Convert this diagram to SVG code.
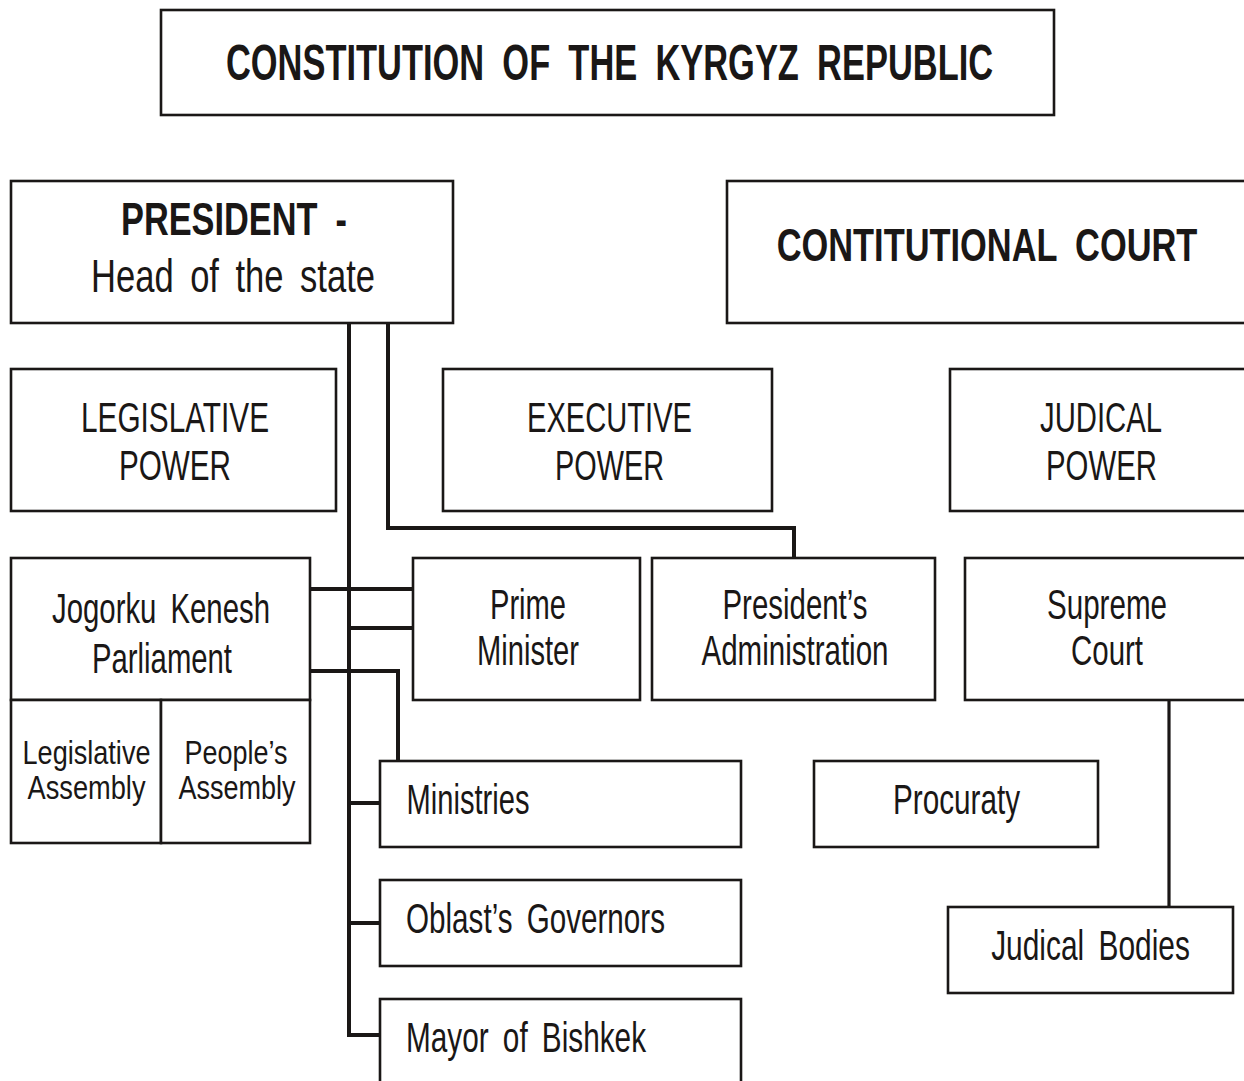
<svg xmlns="http://www.w3.org/2000/svg" width="1244" height="1081" viewBox="0 0 1244 1081">
<style>
.box{fill:#ffffff;stroke:#1a1716;stroke-width:2.6}
.con{fill:none;stroke:#1a1716;stroke-width:4}
.thin{fill:none;stroke:#1a1716;stroke-width:3.2}
text{font-family:"Liberation Sans Narrow","Liberation Sans",Arial,sans-serif;fill:#1a1716;text-anchor:middle}
.b{font-weight:bold;word-spacing:0.25em}
.r{font-size:42px;word-spacing:0.2em}
.s{font-size:34px}
</style>
<rect width="1244" height="1081" fill="#ffffff"/>
<g id="connectors">
<path class="con" d="M349,323 V1035 H380"/>
<path class="con" d="M349,803 H380"/>
<path class="con" d="M349,923 H380"/>
<path class="con" d="M311,589 H413"/>
<path class="con" d="M349,628 H413"/>
<path class="con" d="M311,671 H398 V761"/>
<path class="con" d="M388,323 V528 H794 V558"/>
<path class="thin" d="M1169,700 V907"/>
</g>
<g id="title">
<rect class="box" x="161" y="10" width="893" height="105"/>
<text class="b" transform="matrix(0.7,0,0,1,609.5,80)" x="0" y="0" font-size="50" textLength="1096" lengthAdjust="spacingAndGlyphs">CONSTITUTION OF THE KYRGYZ REPUBLIC</text>
</g>
<g id="president">
<rect class="box" x="11" y="181" width="442" height="142"/>
<text class="b" x="234" y="235" font-size="47" textLength="226" lengthAdjust="spacingAndGlyphs">PRESIDENT -</text>
<text class="r" x="233" y="292" style="font-size:46px" textLength="284" lengthAdjust="spacingAndGlyphs">Head of the state</text>
</g>
<g id="constitutional-court">
<rect class="box" x="727" y="181" width="530" height="142"/>
<text class="b" transform="matrix(0.7,0,0,1,987,261)" x="0" y="0" font-size="47" textLength="601" lengthAdjust="spacingAndGlyphs">CONTITUTIONAL COURT</text>
</g>
<g id="legislative-power">
<rect class="box" x="11" y="369" width="325" height="142"/>
<text class="r" x="175" y="432" textLength="188" lengthAdjust="spacingAndGlyphs">LEGISLATIVE</text>
<text class="r" x="175" y="480" textLength="112" lengthAdjust="spacingAndGlyphs">POWER</text>
</g>
<g id="executive-power">
<rect class="box" x="443" y="369" width="329" height="142"/>
<text class="r" x="609.5" y="432" textLength="165" lengthAdjust="spacingAndGlyphs">EXECUTIVE</text>
<text class="r" x="609.5" y="480" textLength="109" lengthAdjust="spacingAndGlyphs">POWER</text>
</g>
<g id="judical-power">
<rect class="box" x="950" y="369" width="307" height="142"/>
<text class="r" x="1101" y="432" textLength="122" lengthAdjust="spacingAndGlyphs">JUDICAL</text>
<text class="r" x="1101.5" y="480" textLength="111" lengthAdjust="spacingAndGlyphs">POWER</text>
</g>
<g id="jogorku-kenesh">
<rect class="box" x="11" y="558" width="299" height="142"/>
<text class="r" x="161" y="623" textLength="218" lengthAdjust="spacingAndGlyphs">Jogorku Kenesh</text>
<text class="r" x="162" y="673" textLength="140" lengthAdjust="spacingAndGlyphs">Parliament</text>
</g>
<g id="legislative-assembly">
<rect class="box" x="11" y="700" width="150" height="143"/>
<text class="s" x="86.5" y="764" textLength="128" lengthAdjust="spacingAndGlyphs">Legislative</text>
<text class="s" x="86.5" y="799" textLength="118" lengthAdjust="spacingAndGlyphs">Assembly</text>
</g>
<g id="peoples-assembly">
<rect class="box" x="161" y="700" width="149" height="143"/>
<text class="s" x="236" y="764" textLength="103" lengthAdjust="spacingAndGlyphs">People’s</text>
<text class="s" x="237" y="799" textLength="117" lengthAdjust="spacingAndGlyphs">Assembly</text>
</g>
<g id="prime-minister">
<rect class="box" x="413" y="558" width="227" height="142"/>
<text class="r" x="528" y="619" textLength="76" lengthAdjust="spacingAndGlyphs">Prime</text>
<text class="r" x="528" y="665" textLength="102" lengthAdjust="spacingAndGlyphs">Minister</text>
</g>
<g id="presidents-administration">
<rect class="box" x="652" y="558" width="283" height="142"/>
<text class="r" x="795" y="619" textLength="145" lengthAdjust="spacingAndGlyphs">President’s</text>
<text class="r" x="795" y="665" textLength="187" lengthAdjust="spacingAndGlyphs">Administration</text>
</g>
<g id="supreme-court">
<rect class="box" x="965" y="558" width="292" height="142"/>
<text class="r" x="1107" y="619" textLength="120" lengthAdjust="spacingAndGlyphs">Supreme</text>
<text class="r" x="1107" y="665" textLength="72" lengthAdjust="spacingAndGlyphs">Court</text>
</g>
<g id="ministries">
<rect class="box" x="380" y="761" width="361" height="86"/>
<text class="r" x="468" y="814" textLength="123" lengthAdjust="spacingAndGlyphs">Ministries</text>
</g>
<g id="procuraty">
<rect class="box" x="814" y="761" width="284" height="86"/>
<text class="r" x="956.5" y="814" textLength="127" lengthAdjust="spacingAndGlyphs">Procuraty</text>
</g>
<g id="oblasts-governors">
<rect class="box" x="380" y="880" width="361" height="86"/>
<text class="r" x="535.5" y="933" textLength="259" lengthAdjust="spacingAndGlyphs">Oblast’s Governors</text>
</g>
<g id="mayor-of-bishkek">
<rect class="box" x="380" y="999" width="361" height="100"/>
<text class="r" x="526" y="1052" textLength="240" lengthAdjust="spacingAndGlyphs">Mayor of Bishkek</text>
</g>
<g id="judical-bodies">
<rect class="box" x="948" y="907" width="285" height="86"/>
<text class="r" transform="matrix(0.75,0,0,1,1090.5,960)" x="0" y="0" textLength="265" lengthAdjust="spacingAndGlyphs">Judical Bodies</text>
</g>
</svg>
